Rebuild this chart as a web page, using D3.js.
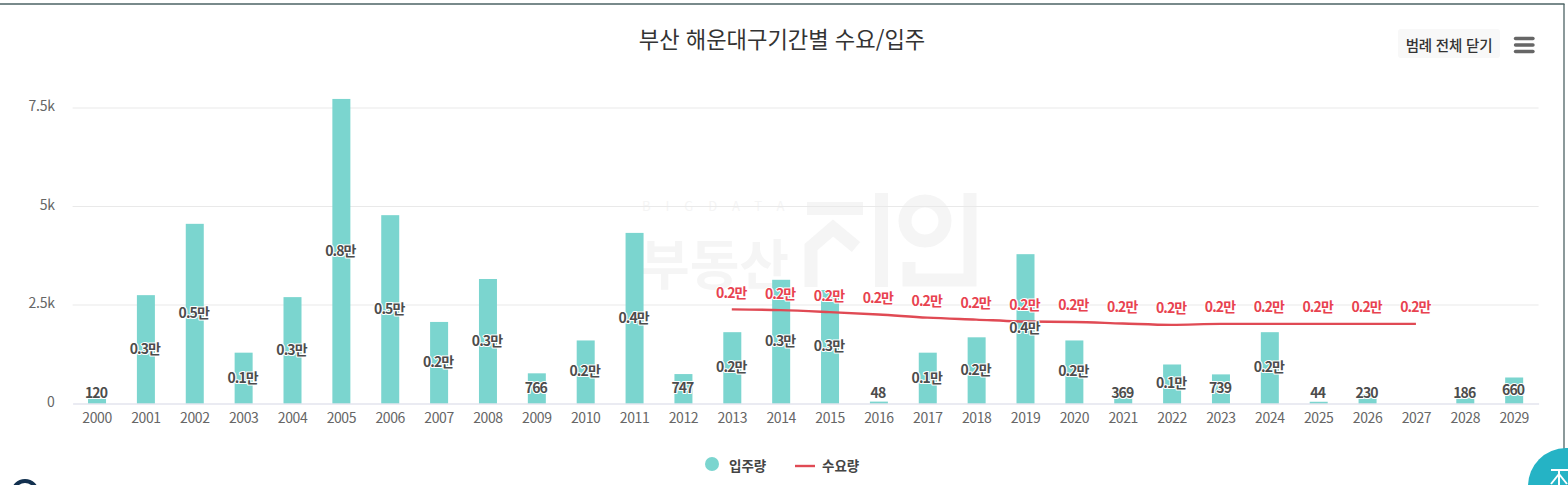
<!DOCTYPE html>
<html lang="ko">
<head>
<meta charset="utf-8">
<script src="https://cdn.jsdelivr.net/npm/d3@7"></script>
<style>
html,body{margin:0;padding:0;background:#fff;overflow:hidden}
svg{display:block}
text{font-family:"Noto Sans CJK KR","Noto Sans",sans-serif}
</style>
</head>
<body>
<svg id="c" width="1568" height="485"></svg>
<script>
const years = d3.range(2000, 2030).map(String);
const supplyValues = [120,2750,4560,1290,2700,7730,4780,2070,3160,766,1600,4330,747,1810,3140,2880,48,1290,1680,3790,1600,369,990,739,1810,44,230,0,186,660];
const supplyLabels = ["120","0.3만","0.5만","0.1만","0.3만","0.8만","0.5만","0.2만","0.3만","766","0.2만","0.4만","747","0.2만","0.3만","0.3만","48","0.1만","0.2만","0.4만","0.2만","369","0.1만","739","0.2만","44","230","","186","660"];
const demandYears = d3.range(2013, 2028).map(String);
const demandValues = [2390,2370,2320,2260,2180,2130,2080,2070,2030,1995,2020,2020,2020,2020,2020];
const demandLabels = demandYears.map(() => "0.2만");
const yTicks = [0,2500,5000,7500];
const yTickLabels = ["0","2.5k","5k","7.5k"];
const titleText = "부산 해운대구기간별 수요/입주";
const legendNames = ["입주량","수요량"];

const svg = d3.select("#c");
const plot = {l:72.6, r:1538.6, t:108, b:403.5};
const x = d3.scaleBand().domain(years).range([plot.l, plot.r]);
const y = d3.scaleLinear().domain([0,7500]).range([plot.b, plot.t]);
const teal = "#7bd5cf", red = "#e04a54";

// frame
svg.append("line").attr("x1",0).attr("x2",1564.5).attr("y1",4).attr("y2",4).attr("stroke","#4d6365").attr("stroke-width",1.3);
svg.append("line").attr("x1",1564).attr("x2",1564).attr("y1",4).attr("y2",450).attr("stroke","#4d6365").attr("stroke-width",1.3);

// watermark
const wmc = "#f5f5f5";
const wm = svg.append("g");
wm.append("text").attr("x",642).attr("y",211).attr("font-size",13).attr("letter-spacing",15).attr("fill",wmc).text("BIGDATA");
wm.append("text").attr("x",640).attr("y",285).attr("font-size",54).attr("font-weight",700).attr("fill",wmc).text("부동산");
const lg = wm.append("g").attr("fill","none").attr("stroke",wmc).attr("stroke-width",13);
lg.append("path").attr("d","M807 208.5H863");
lg.append("path").attr("d","M811 287V247L833 228L856 247");
lg.append("path").attr("d","M881.5 193V287");
lg.append("circle").attr("cx",925).attr("cy",221).attr("r",20);
lg.append("path").attr("d","M970 193V280H909V262");

// grid
svg.append("g").selectAll("line").data(yTicks.slice(1)).join("line")
  .attr("x1",plot.l).attr("x2",plot.r).attr("y1",d=>y(d)).attr("y2",d=>y(d))
  .attr("stroke","#e9e9e9").attr("stroke-width",1);

// axes
const yAxis = d3.axisLeft(y).tickValues(yTicks).tickSize(0).tickPadding(18).tickFormat((d,i)=>yTickLabels[i]);
const gy = svg.append("g").attr("transform",`translate(${plot.l},0)`).call(yAxis);
gy.select(".domain").remove();
gy.selectAll("text").attr("font-size",14).attr("fill","#666").attr("letter-spacing","-0.3").attr("dy","0.2em");

// bars
svg.append("g").selectAll("rect").data(years).join("rect")
  .attr("x",d=>x(d)+x.bandwidth()/2-9)
  .attr("width",18)
  .attr("y",(d,i)=>y(supplyValues[i]))
  .attr("height",(d,i)=>plot.b-y(supplyValues[i]))
  .attr("fill",teal);

const xAxis = d3.axisBottom(x).tickSize(0).tickPadding(10);
const gx = svg.append("g").attr("transform",`translate(0,${plot.b})`).call(xAxis);
gx.select(".domain").attr("stroke","#d5d8e6").attr("stroke-width",1.2);
gx.selectAll("text").attr("font-size",14).attr("fill","#666").attr("letter-spacing","-0.4");

// demand line
const cx = d => x(d)+x.bandwidth()/2;
const line = d3.line().x((d,i)=>cx(demandYears[i])-0.5).y(d=>y(d)).curve(d3.curveMonotoneX);
svg.append("path").attr("d",line(demandValues)).attr("fill","none").attr("stroke",red).attr("stroke-width",2.4);

// labels
function labelY(v){
  const h = plot.b-y(v);
  return Math.min(plot.b-h/2-1.5, plot.b-11.5);
}
const halo = (s,fill)=>s.attr("text-anchor","middle").attr("dominant-baseline","central")
  .attr("font-size",14).attr("font-weight",700).attr("letter-spacing","-0.9").attr("fill",fill)
  .attr("stroke","#fff").attr("stroke-width",2.2).attr("stroke-linejoin","round").attr("paint-order","stroke");
halo(svg.append("g").selectAll("text").data(years).join("text")
  .attr("x",d=>cx(d)-1).attr("y",(d,i)=>labelY(supplyValues[i])).text((d,i)=>supplyLabels[i]),"#4c4c4c");
halo(svg.append("g").selectAll("text").data(demandYears).join("text")
  .attr("x",d=>cx(d)-1).attr("y",(d,i)=>y(demandValues[i])-17.5).text((d,i)=>demandLabels[i]),"#e8424f");

// title
svg.append("text").attr("x",782).attr("y",37.5).attr("text-anchor","middle").attr("dominant-baseline","central")
  .attr("font-size",22.2).attr("fill","#333").text(titleText);

// legend toggle + menu
svg.append("rect").attr("x",1398).attr("y",29).attr("width",102).attr("height",29).attr("rx",3).attr("fill","#f8f8f8");
svg.append("text").attr("x",1449).attr("y",44.5).attr("text-anchor","middle").attr("dominant-baseline","central")
  .attr("font-size",14.5).attr("font-weight",500).attr("letter-spacing","-0.2").attr("fill","#333").text("범례 전체 닫기");
svg.append("g").selectAll("line").data([38.5,45,51.5]).join("line")
  .attr("x1",1515.5).attr("x2",1533).attr("y1",d=>d).attr("y2",d=>d)
  .attr("stroke","#666").attr("stroke-width",3.4).attr("stroke-linecap","round");

// legend
svg.append("circle").attr("cx",712).attr("cy",464).attr("r",7).attr("fill",teal);
svg.append("text").attr("x",729).attr("y",465).attr("dominant-baseline","central").attr("font-size",13.5).attr("font-weight",700).attr("fill","#444").text(legendNames[0]);
svg.append("line").attr("x1",795).attr("x2",815).attr("y1",466).attr("y2",466).attr("stroke",red).attr("stroke-width",2.4);
svg.append("text").attr("x",822).attr("y",465).attr("dominant-baseline","central").attr("font-size",13.5).attr("font-weight",700).attr("fill","#444").text(legendNames[1]);

// page furniture clipped at the bottom corners
svg.append("circle").attr("cx",25).attr("cy",493).attr("r",12).attr("fill","none").attr("stroke","#12304f").attr("stroke-width",4);
svg.append("circle").attr("cx",1566).attr("cy",486).attr("r",38).attr("fill","#25b3c5");
svg.append("path").attr("d","M1551 470H1568M1559 470V486M1559 474L1551 484M1559 474L1567 484").attr("fill","none").attr("stroke","#fff").attr("stroke-width",2);
</script>
</body>
</html>
